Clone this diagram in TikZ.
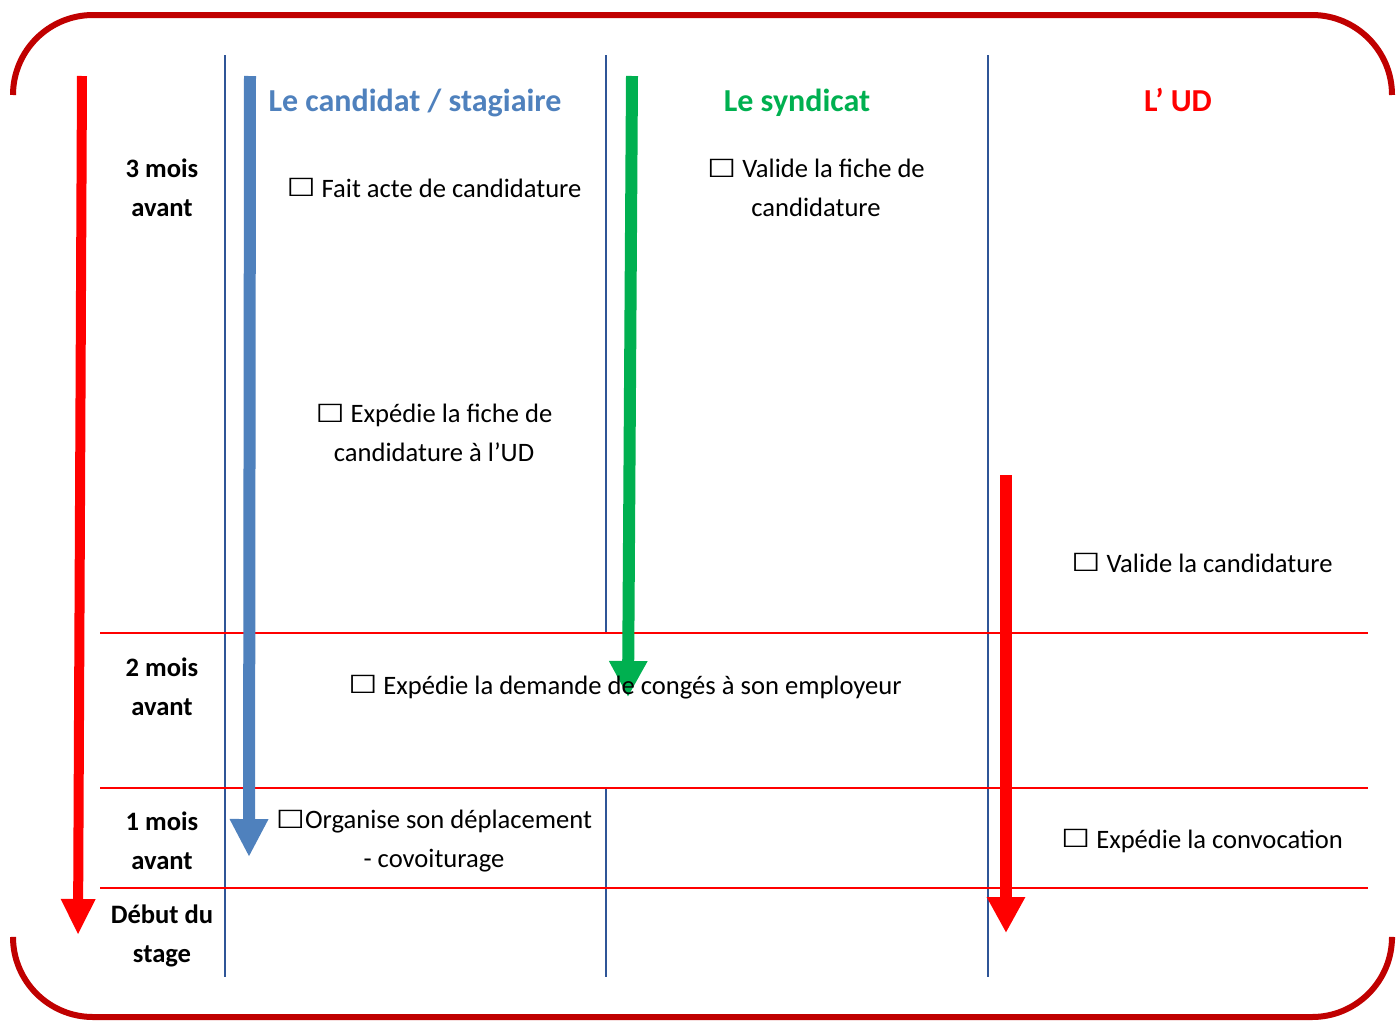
\documentclass[tikz,border=0pt]{standalone}
\usepackage{fontspec}
\usepackage{graphicx}
\setmainfont{Carlito}
\newfontfamily\symfont{DejaVu Sans}
\usetikzlibrary{arrows.meta}
\definecolor{frame}{HTML}{C00000}
\definecolor{myblue}{HTML}{4F81BD}
\definecolor{mygreen}{HTML}{00B050}
\definecolor{grid}{HTML}{2F5597}
\newcommand{\cbx}{\raisebox{0.5pt}{\scalebox{1.3}[1]{\symfont\fontsize{25}{25}\selectfont ☐}}}
\begin{document}
\begin{tikzpicture}[x=1pt,y=-1pt,
  body/.style={font=\fontsize{26.6}{39}\selectfont, align=center, inner sep=0pt},
  rowlab/.style={font=\bfseries\fontsize{26.6}{39}\selectfont, align=center, inner sep=0pt},
  head/.style={font=\bfseries\fontsize{32}{36}\selectfont, inner sep=0pt, anchor=base},
  gridline/.style={grid, line width=1.6pt},
  rowline/.style={red, line width=2pt},
  framel/.style={frame, line width=6pt, rounded corners=80pt}]
\useasboundingbox (0,0) rectangle (1397,1020);
% frame
\coordinate (f1) at (13,95); \coordinate (f2) at (13,15);
\coordinate (f3) at (1392,15); \coordinate (f4) at (1392,95);
\coordinate (g1) at (13,940); \coordinate (g2) at (13,1017);
\coordinate (g3) at (1392,1017); \coordinate (g4) at (1392,940);
\draw[framel] (f1) -- (f2) -- (f3) -- (f4);
\draw[framel] (g1) -- (g2) -- (g3) -- (g4);
% grid
\coordinate (v1t) at (225,55); \coordinate (v1b) at (225,977);
\coordinate (v2t) at (606,55); \coordinate (v2m) at (606,633);
\coordinate (v2n) at (606,788); \coordinate (v2b) at (606,977);
\coordinate (v3t) at (988,55); \coordinate (v3b) at (988,977);
\draw[gridline] (v1t) -- (v1b);
\draw[gridline] (v2t) -- (v2m);
\draw[gridline] (v2n) -- (v2b);
\draw[gridline] (v3t) -- (v3b);
\coordinate (h1a) at (100,633); \coordinate (h1b) at (1368,633);
\coordinate (h2a) at (100,788); \coordinate (h2b) at (1368,788);
\coordinate (h3a) at (100,888); \coordinate (h3b) at (1368,888);
\draw[rowline] (h1a) -- (h1b);
\draw[rowline] (h2a) -- (h2b);
\draw[rowline] (h3a) -- (h3b);
% arrows
\coordinate (ra1) at (82,76); \coordinate (ra2) at (78,935);
\draw[red, line width=10pt, -{Triangle[width=32pt,length=36pt]}] (ra1) -- (ra2);
\coordinate (ba1) at (250,76); \coordinate (ba2) at (249,857);
\draw[myblue, line width=12pt, -{Triangle[width=36pt,length=38pt]}] (ba1) -- (ba2);
\coordinate (ga1) at (632,76); \coordinate (ga2) at (628,697);
\draw[mygreen, line width=12pt, -{Triangle[width=36pt,length=36pt]}] (ga1) -- (ga2);
\coordinate (da1) at (1006,475); \coordinate (da2) at (1006,933);
\draw[red, line width=12pt, -{Triangle[width=36pt,length=36pt]}] (da1) -- (da2);
% headers
\node[head, text=myblue] (h1) at (415,111) {Le candidat / stagiaire};
\node[head, text=mygreen] (h2) at (797,111) {Le syndicat};
\node[head, text=red] (h3) at (1178,111) {L’ UD};
% row labels
\node[rowlab] (r1) at (162,188) {3 mois\\avant};
\node[rowlab] (r2) at (162,687) {2 mois\\avant};
\node[rowlab] (r3) at (162,841) {1 mois\\avant};
\node[rowlab] (r4) at (162,936) {Début du\\stage};
% tasks
\node[body] (t1) at (434,188) {\cbx\ Fait acte de candidature};
\node[body] (t2) at (816,188) {\cbx\ Valide la fiche de\\candidature};
\node[body] (t3) at (434,433) {\cbx\ Expédie la fiche de\\candidature à l’UD};
\node[body] (t4) at (1202,563) {\cbx\ Valide la candidature};
\node[body] (t5) at (625,687) {\cbx\ Expédie la demande de congés à son employeur};
\node[body] (t6) at (434,841) {\cbx Organise son déplacement\\- covoiturage};
\node[body] (t7) at (1202,841) {\cbx\ Expédie la convocation};
\end{tikzpicture}
\end{document}
